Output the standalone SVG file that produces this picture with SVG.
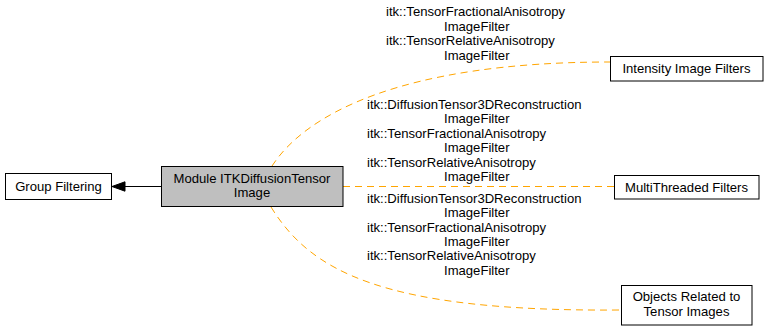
<svg xmlns="http://www.w3.org/2000/svg" width="768" height="331" viewBox="0 0 768 331">
<style>
text{font-family:"Liberation Sans",Arial,sans-serif;font-size:13.1px;fill:#000;text-anchor:middle}
text.l{text-anchor:start}
.box{fill:#fff;stroke:#000;stroke-width:1}
.cur{fill:#bfbfbf;stroke:#000;stroke-width:1}
.dep{fill:none;stroke:#ffa500;stroke-width:1;stroke-dasharray:7,5}
</style>
<rect width="768" height="331" fill="#fff"/>
<g id="connectors">
<path d="M161,186.5 L124,186.5" stroke="#000" stroke-width="1" fill="none"/>
<polygon points="112,186.5 125,181.8 125,191.2" fill="#000" stroke="#000"/>
<path class="dep" d="M272,166 C305,115 400,62 610,62"/>
<path class="dep" d="M343,186.5 L614,186.5"/>
<path class="dep" d="M271,207 C310,270 380,312 621,310"/>
<g id="label-intensity">
<text class="l" x="386" y="16.3">itk::TensorFractionalAnisotropy</text>
<text class="l" x="444" y="30.7">ImageFilter</text>
<text class="l" x="386" y="45.1">itk::TensorRelativeAnisotropy</text>
<text class="l" x="444" y="59.5">ImageFilter</text>
</g>
<g id="label-multithreaded">
<text class="l" x="367" y="109">itk::DiffusionTensor3DReconstruction</text>
<text class="l" x="444" y="123.4">ImageFilter</text>
<text class="l" x="367" y="137.8">itk::TensorFractionalAnisotropy</text>
<text class="l" x="444" y="152.2">ImageFilter</text>
<text class="l" x="367" y="166.6">itk::TensorRelativeAnisotropy</text>
<text class="l" x="444" y="181">ImageFilter</text>
</g>
<g id="label-objects">
<text class="l" x="367" y="202.7">itk::DiffusionTensor3DReconstruction</text>
<text class="l" x="444" y="217.1">ImageFilter</text>
<text class="l" x="367" y="231.5">itk::TensorFractionalAnisotropy</text>
<text class="l" x="444" y="245.9">ImageFilter</text>
<text class="l" x="367" y="260.3">itk::TensorRelativeAnisotropy</text>
<text class="l" x="444" y="274.7">ImageFilter</text>
</g>
</g>
<g id="node-group-filtering">
<rect class="box" x="5.5" y="173.5" width="106" height="26"/>
<text x="58.5" y="191">Group Filtering</text>
</g>
<g id="node-module">
<rect class="cur" x="161.5" y="166.5" width="181.5" height="40"/>
<text x="252" y="182.7">Module ITKDiffusionTensor</text>
<text x="252" y="196.5">Image</text>
</g>
<g id="node-intensity">
<rect class="box" x="610.5" y="56.5" width="152.5" height="24.5"/>
<text x="686.5" y="72.5">Intensity Image Filters</text>
</g>
<g id="node-multithreaded">
<rect class="box" x="614.5" y="175.5" width="144.5" height="23.5"/>
<text x="686.5" y="191.5">MultiThreaded Filters</text>
</g>
<g id="node-objects">
<rect class="box" x="621.5" y="285.5" width="130.5" height="39.5"/>
<text x="686.5" y="301">Objects Related to</text>
<text x="686.5" y="315.5">Tensor Images</text>
</g>
</svg>
